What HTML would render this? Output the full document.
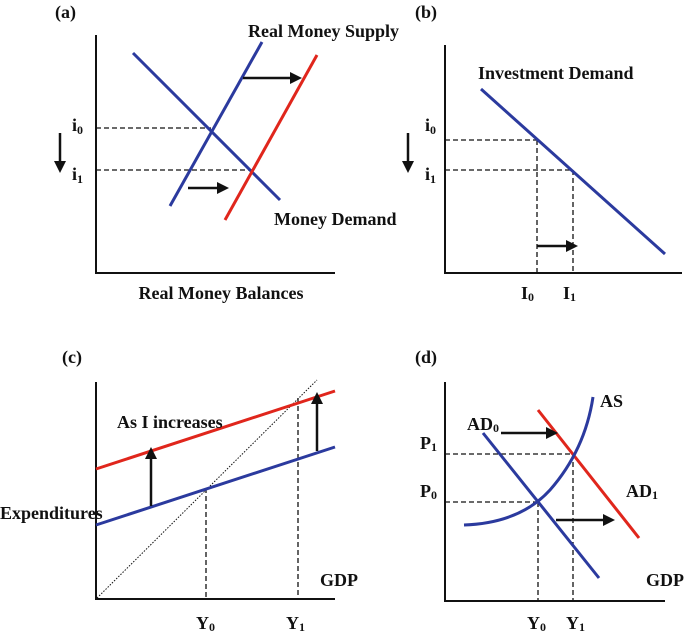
<!DOCTYPE html>
<html><head><meta charset="utf-8">
<style>
html,body{margin:0;padding:0;background:#fff;}
svg{display:block;}
text{font-family:"Liberation Serif",serif;font-weight:bold;fill:#111;}
</style></head>
<body>
<svg id="fig" width="685" height="633" viewBox="0 0 685 633" xmlns="http://www.w3.org/2000/svg">
<defs>
<marker id="ah" markerWidth="12" markerHeight="12" refX="9" refY="6" orient="auto" markerUnits="userSpaceOnUse"><path d="M0,0 L12,6 L0,12 z" fill="#111"/></marker>
</defs>
<g id="layer"></g>
<text x="55" y="18" font-size="18">(a)</text>
<text x="415" y="18" font-size="18">(b)</text>
<text x="62" y="363" font-size="18">(c)</text>
<text x="415" y="363" font-size="18">(d)</text>

<text x="248" y="37" font-size="18">Real Money Supply</text>
<text x="274" y="225" font-size="18">Money Demand</text>
<text x="221" y="299" font-size="18" text-anchor="middle">Real Money Balances</text>
<text x="72" y="131" font-size="18">i<tspan font-size="12" dy="3">0</tspan></text>
<text x="72" y="180" font-size="18">i<tspan font-size="12" dy="3">1</tspan></text>

<text x="478" y="79" font-size="18">Investment Demand</text>
<text x="425" y="131" font-size="18">i<tspan font-size="12" dy="3">0</tspan></text>
<text x="425" y="180" font-size="18">i<tspan font-size="12" dy="3">1</tspan></text>
<text x="521" y="299" font-size="18">I<tspan font-size="12" dy="2">0</tspan></text>
<text x="563" y="299" font-size="18">I<tspan font-size="12" dy="2">1</tspan></text>

<text x="117" y="428" font-size="18">As I increases</text>
<text x="0" y="519" font-size="18">Expenditures</text>
<text x="320" y="586" font-size="18">GDP</text>
<text x="196" y="629" font-size="18">Y<tspan font-size="12" dy="2">0</tspan></text>
<text x="286" y="629" font-size="18">Y<tspan font-size="12" dy="2">1</tspan></text>

<text x="600" y="407" font-size="18">AS</text>
<text x="467" y="430" font-size="18">AD<tspan font-size="12" dy="2">0</tspan></text>
<text x="626" y="497" font-size="18">AD<tspan font-size="12" dy="2">1</tspan></text>
<text x="420" y="449" font-size="18">P<tspan font-size="12" dy="2">1</tspan></text>
<text x="420" y="497" font-size="18">P<tspan font-size="12" dy="2">0</tspan></text>
<text x="646" y="586" font-size="18">GDP</text>
<text x="527" y="629" font-size="18">Y<tspan font-size="12" dy="2">0</tspan></text>
<text x="566" y="629" font-size="18">Y<tspan font-size="12" dy="2">1</tspan></text>
</svg>
<script>
const axesData = [
  ['axes-a', 96, 35, 96, 273, 335, 273],
  ['axes-b', 445, 45, 445, 273, 682, 273],
  ['axes-c', 96, 382, 96, 599, 335, 599],
  ['axes-d', 445, 382, 445, 601, 665, 601]
];
const curveData = [
  ['money-demand-line', 133, 53, 280, 200, '#2b3a9e'],
  ['money-supply-0-line', 170, 206, 262, 42, '#2b3a9e'],
  ['money-supply-1-line', 225, 220, 317, 55, '#e0261c'],
  ['investment-demand-line', 481, 89, 665, 254, '#2b3a9e'],
  ['expenditure-1-line', 96, 469, 335, 391, '#e0261c'],
  ['expenditure-0-line', 96, 525, 335, 447, '#2b3a9e'],
  ['ad0-line', 483, 433, 599, 578, '#2b3a9e'],
  ['ad1-line', 538, 410, 639, 538, '#e0261c']
];
const dashData = [
  ['i0-dash-a', 96, 128, 211, 128], ['i1-dash-a', 96, 170, 252, 170],
  ['i0-dash-b', 445, 140, 537, 140], ['i1-dash-b', 445, 170, 573, 170],
  ['I0-dash', 537, 140, 537, 273], ['I1-dash', 573, 170, 573, 273],
  ['Y0-dash-c', 206, 488, 206, 599], ['Y1-dash-c', 298, 398, 298, 599],
  ['P1-dash', 445, 454, 573, 454], ['P0-dash', 445, 502, 538, 502],
  ['Y1-dash-d', 573, 454, 573, 601], ['Y0-dash-d', 538, 502, 538, 601]
];
const arrowData = [
  ['shift-arrow-ms-top', 243, 78, 299, 78], ['shift-arrow-ms-bottom', 188, 188, 226, 188],
  ['down-arrow-a', 60, 133, 60, 170], ['down-arrow-b', 408, 133, 408, 170],
  ['shift-arrow-investment', 537, 246, 575, 246],
  ['up-arrow-left', 151, 506, 151, 450], ['up-arrow-right', 317, 451, 317, 395],
  ['shift-arrow-ad-top', 501, 433, 555, 433], ['shift-arrow-ad-bottom', 556, 520, 612, 520]
];
const NS = 'http://www.w3.org/2000/svg';
const layer = document.getElementById('layer');
function mk(tag, attrs) {
  const el = document.createElementNS(NS, tag);
  for (const k in attrs) el.setAttribute(k, attrs[k]);
  layer.appendChild(el);
  return el;
}
axesData.forEach(a => {
  const el = mk('polyline', {points: a[1]+','+a[2]+' '+a[3]+','+a[4]+' '+a[5]+','+a[6], fill: 'none', stroke: '#111', 'stroke-width': 2});
  
  
});
dashData.forEach(d => {
  const el = mk('line', {x1: d[1], y1: d[2], x2: d[3], y2: d[4], stroke: '#111', 'stroke-width': 1.3, 'stroke-dasharray': '5,3'});
  
  
});
const diag = mk('line', {x1: 97, y1: 598, x2: 317, y2: 380, stroke: '#111', 'stroke-width': 1, 'stroke-dasharray': '1.5,1.5'});


curveData.forEach(c => {
  const el = mk('line', {x1: c[1], y1: c[2], x2: c[3], y2: c[4], stroke: c[5], 'stroke-width': 3});
  
  
});
const asCurve = mk('path', {d: 'M464,525 Q520,523 550,490 Q585,450 593,397', fill: 'none', stroke: '#2b3a9e', 'stroke-width': 3});


arrowData.forEach(a => {
  const el = mk('line', {x1: a[1], y1: a[2], x2: a[3], y2: a[4], stroke: '#111', 'stroke-width': 2.5, 'marker-end': 'url(#ah)'});
  
  
});
</script>
</body></html>
